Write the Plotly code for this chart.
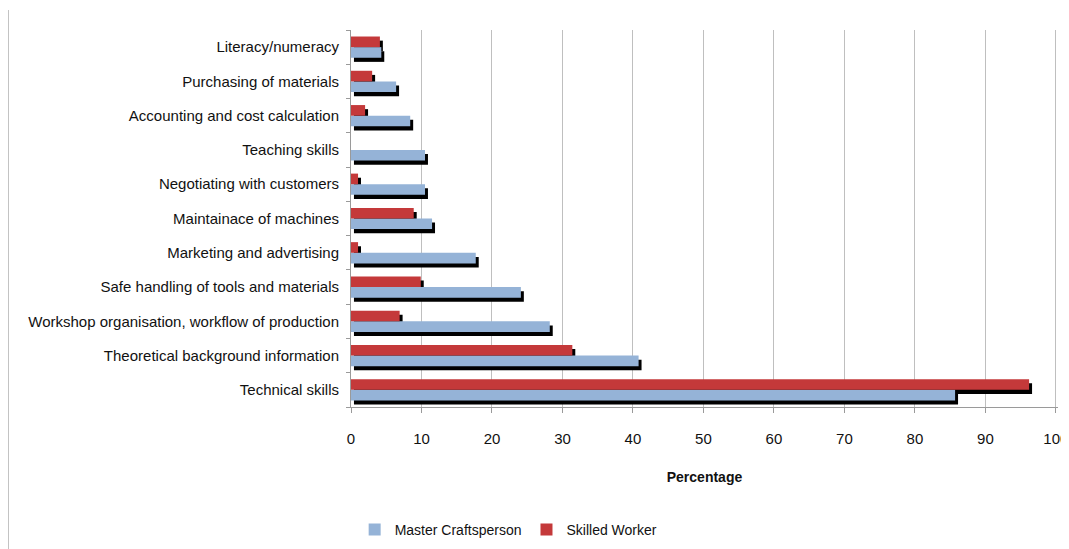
import plotly.graph_objects as go

categories = [
    "Technical skills",
    "Theoretical background information",
    "Workshop organisation, workflow of production",
    "Safe handling of tools and materials",
    "Marketing and advertising",
    "Maintainace of machines",
    "Negotiating with customers",
    "Teaching skills",
    "Accounting and cost calculation",
    "Purchasing of materials",
    "Literacy/numeracy",
]
master = [85.7, 40.8, 28.2, 24.1, 17.7, 11.5, 10.5, 10.5, 8.4, 6.4, 4.3]
skilled = [96.2, 31.4, 6.9, 9.9, 1.0, 8.9, 1.0, 0.0, 2.0, 3.0, 4.1]
x_ticks = [0, 10, 20, 30, 40, 50, 60, 70, 80, 90, 100]

FONT = "Liberation Sans, Arial, sans-serif"
BLUE = "#95B3D7"
RED = "#C4393A"
W = 0.31
SH_DX = 0.42
SH_DY = 0.12

fig = go.Figure()
# shadows
for vals, off in [(skilled, 0.0), (master, -W)]:
    fig.add_trace(go.Bar(
        y=categories, x=[v if v > 0 else 0 for v in vals], base=SH_DX,
        orientation="h", width=W, offset=off - SH_DY,
        marker=dict(color="black", line=dict(width=0)),
        showlegend=False, hoverinfo="skip",
    ))
fig.add_trace(go.Bar(
    y=categories, x=master, orientation="h", width=W, offset=-W,
    marker=dict(color=BLUE, line=dict(width=0)), name="Master Craftsperson",
))
fig.add_trace(go.Bar(
    y=categories, x=skilled, orientation="h", width=W, offset=0,
    marker=dict(color=RED, line=dict(width=0)), name="Skilled Worker",
))

fig.update_layout(
    barmode="overlay",
    width=1061, height=541,
    margin=dict(l=343, r=11, t=22, b=142, autoexpand=False),
    plot_bgcolor="white", paper_bgcolor="white",
    font=dict(family=FONT, size=15, color="#111"),
    xaxis=dict(
        range=[0, 100.3], tickvals=x_ticks, ticktext=[str(t) for t in x_ticks],
        showgrid=True, gridcolor="#BFBFBF", gridwidth=1,
        showline=True, linecolor="#9A9A9A", linewidth=1,
        ticks="outside", ticklen=5, tickcolor="#9A9A9A",
        zeroline=False, automargin=False, ticklabeloverflow="allow",
        title=dict(text="<b>Percentage</b>", font=dict(size=14, family=FONT), standoff=26),
        tickfont=dict(size=15), ticklabelstandoff=13,
    ),
    yaxis=dict(
        type="category", categoryorder="array", categoryarray=categories,
        showline=True, linecolor="#9A9A9A", linewidth=1,
        ticks="outside", ticklen=4, tickcolor="#9A9A9A", tickson="boundaries",
        showgrid=False, tickfont=dict(size=15), automargin=False,
        ticklabelstandoff=8,
    ),
    legend=dict(
        orientation="h", x=0.223, xanchor="center", y=-0.326, yanchor="middle",
        font=dict(size=14, family=FONT), itemwidth=30,
    ),
    shapes=[dict(
        type="line", xref="paper", yref="paper",
        x0=-0.485, x1=-0.485, y0=1.053, y1=-0.38,
        line=dict(color="#9A9A9A", width=1),
    )],
)

fig.write_html("out.html")
